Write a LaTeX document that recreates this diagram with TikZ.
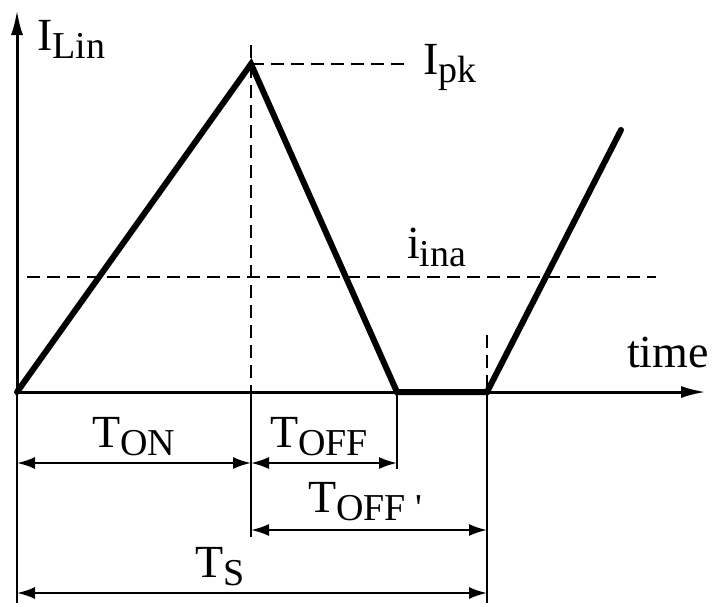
\documentclass[tikz,border=0pt]{standalone}
\usepackage{fontspec}
\setmainfont{Liberation Serif}
\usetikzlibrary{arrows.meta, positioning}

\newcommand{\labsub}[2]{#1\raisebox{-8pt}{\fontsize{38}{40}\selectfont #2}}

\begin{document}
\begin{tikzpicture}[
    x=1pt, y=-1pt,
    wave/.style={line width=6pt, line join=miter, line cap=round},
    axis/.style={line width=3pt, -{Latex[length=25pt,width=12pt]}},
    guide/.style={line width=1.5pt, dash pattern=on 13pt off 7pt},
    ext/.style={line width=1.5pt},
    dim/.style={line width=2pt, {Latex[length=18pt,width=12pt]}-{Latex[length=18pt,width=12pt]}},
    lab/.style={anchor=base west, inner sep=0pt, font=\fontsize{46}{50}\selectfont}
]
\useasboundingbox (0,0) rectangle (713,606);

% Key points
\coordinate (origin) at (17,392);
\coordinate (ytop) at (17,10);
\coordinate (xend) at (706,392);
\coordinate (peak) at (251,64);
\coordinate (zero) at (397,392);
\coordinate (restart) at (487,392);
\coordinate (rise) at (621,130);

% Axes
\draw[axis] (origin) -- (ytop);
\draw[axis] (origin) -- (xend);

% Guide lines
\coordinate (pktop) at (251,45);
\coordinate (pkend) at (407,64);
\coordinate (inaleft) at (27,277);
\coordinate (inaright) at (656,277);
\coordinate (rstop) at (487,335);
\draw[guide] (pktop) -- (peak |- origin);
\draw[guide] (peak) -- (pkend);
\draw[guide] (inaleft) -- (inaright);
\draw[guide] (rstop) -- (restart);

% Inductor current
\draw[wave] (origin) -- (peak) -- (zero) -- (restart) -- (rise);

% Extension lines
\coordinate (onbot) at (17,603);
\coordinate (pkbot) at (251,537);
\coordinate (zerobot) at (397,469);
\coordinate (rsbot) at (487,603);
\draw[ext] (origin) -- (onbot);
\draw[ext] (peak |- origin) -- (pkbot);
\draw[ext] (zero) -- (zerobot);
\draw[ext] (restart) -- (rsbot);

% Dimension arrows
\draw[dim] (17,463) coordinate (ton1) -- (251,463) coordinate (ton2);
\draw[dim] (ton2) -- (397,463) coordinate (toff2);
\draw[dim] (251,530) coordinate (toffp1) -- (487,530) coordinate (toffp2);
\draw[dim] (17,593) coordinate (ts1) -- (487,593) coordinate (ts2);

% Labels
\node[lab] (ilin) at (37,50) {\labsub{I}{Lin}};
\node[lab] (ipk) at (423,74) {\labsub{I}{pk}};
\node[lab] (iina) at (407,258) {\labsub{i}{ina}};
\node[lab] (time) at (627,367) {time};
\node[lab] (tonlab) at (92,447) {\labsub{T}{ON}};
\node[lab] (tofflab) at (270,447) {\labsub{T}{OFF}};
\node[lab] (toffplab) at (308,512) {\labsub{T}{OFF\ \textquotesingle}};
\node[lab] (tslab) at (195,577) {\labsub{T}{S}};
\end{tikzpicture}
\end{document}
